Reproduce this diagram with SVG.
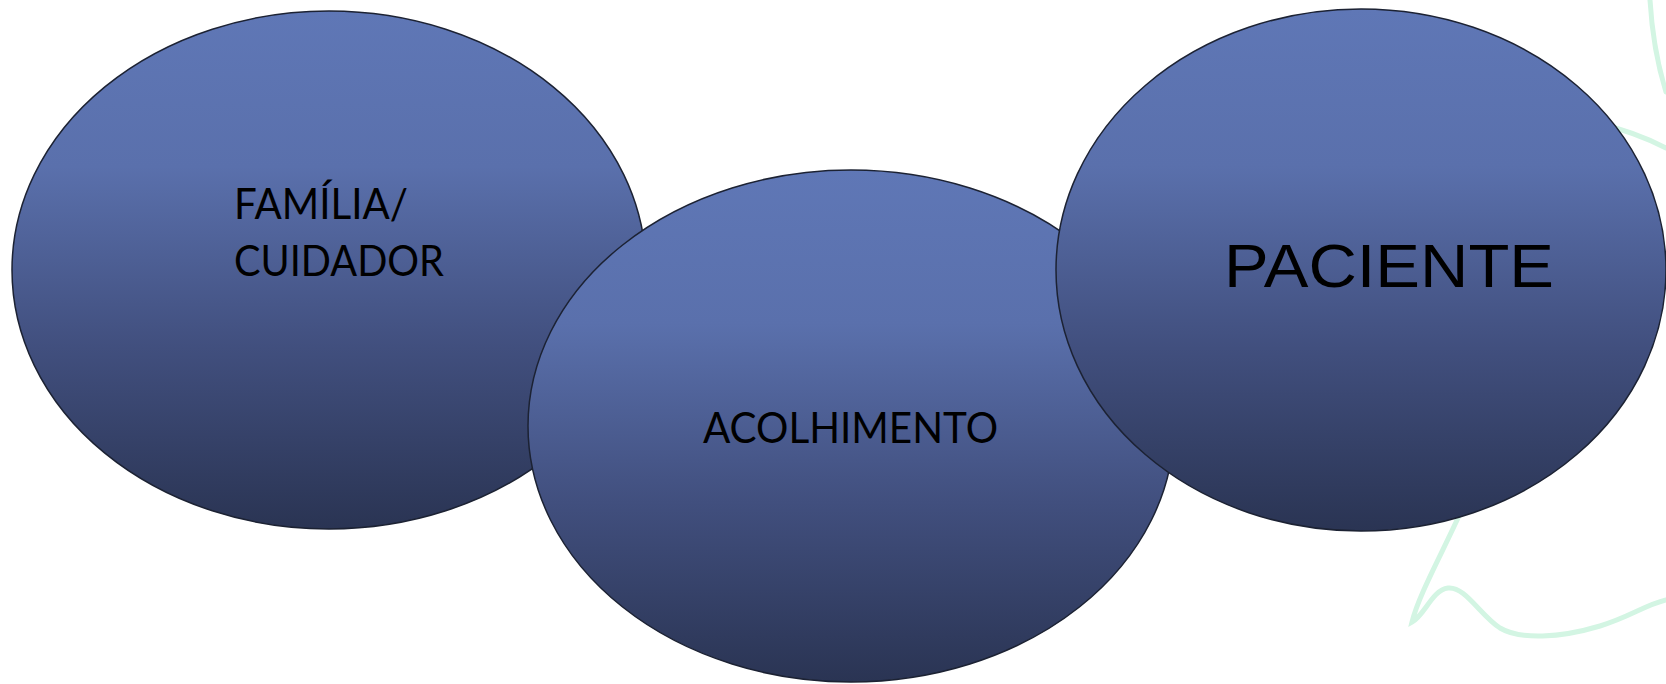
<svg xmlns="http://www.w3.org/2000/svg" width="1666" height="684" viewBox="0 0 1666 684">
  <style>
    .node { stroke: #1c2233; stroke-width: 1.5; fill: url(#blueGrad); }
    .lbl { font-family: Lato, "Open Sans", "Liberation Sans", sans-serif; font-size: 43px; fill: #000; }
    .lbl2 { font-family: "Liberation Sans", Arial, sans-serif; font-size: 62px; fill: #000; }
    .deco { fill: none; stroke: #d3f5e3; stroke-width: 5; stroke-linecap: round; }
  </style>
  <defs>
    <linearGradient id="blueGrad" x1="0" y1="0" x2="0" y2="1">
      <stop offset="0" stop-color="#5f77b6"/>
      <stop offset="0.3" stop-color="#5a70ac"/>
      <stop offset="0.65" stop-color="#414f7e"/>
      <stop offset="1" stop-color="#2a3453"/>
    </linearGradient>
  </defs>
  <rect width="1666" height="684" fill="#ffffff"/>
  <g id="decoration">
    <path class="deco" d="M1650,0 Q1653,50 1666,92"/>
    <path class="deco" d="M1600,124 Q1635,132 1666,148"/>
    <path class="deco" d="M1475,480 C1450,540 1420,590 1412,622 C1425,615 1432,590 1448,588 C1465,586 1480,615 1500,628 C1520,640 1560,638 1600,626 C1630,617 1645,605 1666,600"/>
  </g>
  <g id="connectors"></g>
  <g id="node-familia">
    <ellipse class="node" cx="329" cy="270" rx="317" ry="259"/>
    <text class="lbl" x="234" y="219" textLength="174" lengthAdjust="spacingAndGlyphs">FAMÍLIA/</text>
    <text class="lbl" x="234" y="276" textLength="210" lengthAdjust="spacingAndGlyphs">CUIDADOR</text>
  </g>
  <g id="node-acolhimento">
    <ellipse class="node" cx="851" cy="426" rx="323" ry="256"/>
    <text class="lbl" x="703" y="443" textLength="295" lengthAdjust="spacingAndGlyphs">ACOLHIMENTO</text>
  </g>
  <g id="node-paciente">
    <ellipse class="node" cx="1361" cy="270" rx="305" ry="261"/>
    <text class="lbl2" x="1224" y="287" textLength="330" lengthAdjust="spacingAndGlyphs">PACIENTE</text>
  </g>
</svg>
